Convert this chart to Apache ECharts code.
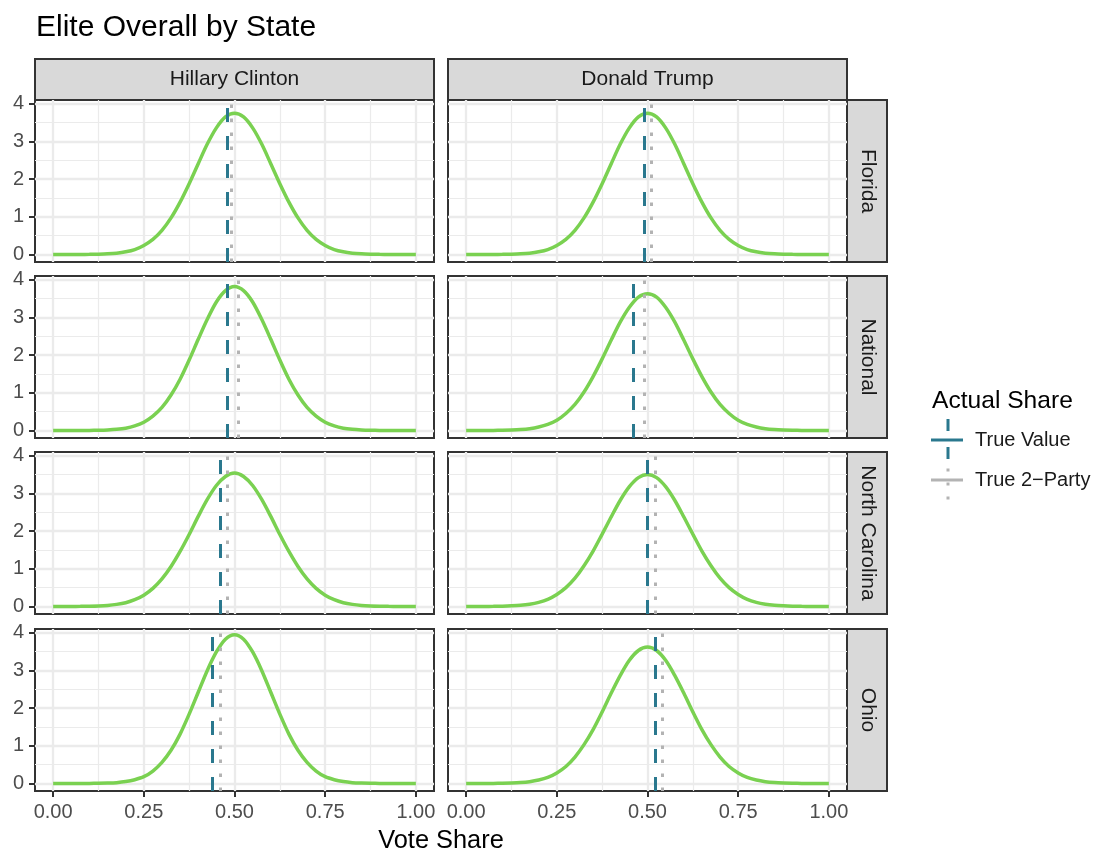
<!DOCTYPE html>
<html>
<head>
<meta charset="utf-8">
<title>Elite Overall by State</title>
<script src="https://cdn.jsdelivr.net/npm/echarts@6/dist/echarts.min.js"></script>
<style>
    html, body { margin: 0; padding: 0; background: #fff; }
    #main { width: 1095px; height: 852px; }
</style>
</head>
<body>
<div id="main"></div>
<script>
/* facets */
var candidates = ['Hillary Clinton', 'Donald Trump'];
var states = ['Florida', 'National', 'North Carolina', 'Ohio'];

/* x positions of the density curves */
var voteShare = [0, 0.025, 0.05, 0.075, 0.1, 0.125, 0.15, 0.175, 0.2, 0.225,
    0.25, 0.275, 0.3, 0.325, 0.35, 0.375, 0.4, 0.425, 0.45, 0.475,
    0.5, 0.525, 0.55, 0.575, 0.6, 0.625, 0.65, 0.675, 0.7, 0.725,
    0.75, 0.775, 0.8, 0.825, 0.85, 0.875, 0.9, 0.925, 0.95, 0.975, 1];

/* density */
var clintonFlorida = [0, 0, 0, 0.001, 0.003, 0.008, 0.017, 0.035, 0.07, 0.13, 0.24, 0.40, 0.64, 0.97, 1.39, 1.88, 2.41, 2.93, 3.36, 3.65,
    3.75, 3.65, 3.36, 2.93, 2.41, 1.88, 1.39, 0.97, 0.64, 0.40, 0.24, 0.13, 0.07, 0.035, 0.017, 0.008, 0.003, 0.001, 0, 0, 0];
var clintonNational = [0, 0, 0, 0.001, 0.002, 0.006, 0.014, 0.03, 0.06, 0.12, 0.22, 0.38, 0.61, 0.94, 1.36, 1.87, 2.42, 2.95, 3.41, 3.71,
    3.82, 3.71, 3.41, 2.95, 2.42, 1.87, 1.36, 0.94, 0.61, 0.38, 0.22, 0.12, 0.06, 0.03, 0.014, 0.006, 0.002, 0.001, 0, 0, 0];
var clintonNorthCarolina = [0, 0, 0.001, 0.003, 0.007, 0.014, 0.028, 0.055, 0.10, 0.18, 0.30, 0.48, 0.73, 1.06, 1.46, 1.91, 2.39, 2.84, 3.21, 3.45,
    3.54, 3.45, 3.21, 2.84, 2.39, 1.91, 1.46, 1.06, 0.73, 0.48, 0.30, 0.18, 0.10, 0.055, 0.028, 0.014, 0.007, 0.003, 0.001, 0, 0];
var clintonOhio = [0, 0, 0, 0.0006, 0.0015, 0.004, 0.01, 0.022, 0.05, 0.10, 0.18, 0.33, 0.56, 0.88, 1.31, 1.84, 2.42, 3.00, 3.49, 3.83,
    3.95, 3.83, 3.49, 3.00, 2.42, 1.84, 1.31, 0.88, 0.56, 0.33, 0.18, 0.10, 0.05, 0.022, 0.01, 0.004, 0.0015, 0.0006, 0, 0, 0];
var trumpFlorida = [0, 0, 0, 0.001, 0.003, 0.008, 0.017, 0.035, 0.07, 0.13, 0.24, 0.40, 0.64, 0.97, 1.39, 1.88, 2.41, 2.93, 3.36, 3.65,
    3.75, 3.65, 3.36, 2.93, 2.41, 1.88, 1.39, 0.97, 0.64, 0.40, 0.24, 0.13, 0.07, 0.035, 0.017, 0.008, 0.003, 0.001, 0, 0, 0];
var trumpNational = [0, 0, 0.001, 0.002, 0.005, 0.011, 0.023, 0.046, 0.09, 0.16, 0.27, 0.45, 0.69, 1.02, 1.43, 1.90, 2.40, 2.88, 3.27, 3.54,
    3.63, 3.54, 3.27, 2.88, 2.40, 1.90, 1.43, 1.02, 0.69, 0.45, 0.27, 0.16, 0.09, 0.046, 0.023, 0.011, 0.005, 0.002, 0.001, 0, 0];
var trumpNorthCarolina = [0, 0.001, 0.001, 0.003, 0.007, 0.016, 0.031, 0.06, 0.11, 0.19, 0.32, 0.50, 0.75, 1.08, 1.47, 1.92, 2.38, 2.82, 3.18, 3.42,
    3.50, 3.42, 3.18, 2.82, 2.38, 1.92, 1.47, 1.08, 0.75, 0.50, 0.32, 0.19, 0.11, 0.06, 0.031, 0.016, 0.007, 0.003, 0.001, 0.001, 0];
var trumpOhio = [0, 0, 0.001, 0.002, 0.005, 0.011, 0.023, 0.047, 0.09, 0.16, 0.28, 0.45, 0.70, 1.03, 1.43, 1.90, 2.40, 2.87, 3.27, 3.53,
    3.62, 3.53, 3.27, 2.87, 2.40, 1.90, 1.43, 1.03, 0.70, 0.45, 0.28, 0.16, 0.09, 0.047, 0.023, 0.011, 0.005, 0.002, 0.001, 0, 0];

/* actual shares, in the order of states */
var clintonTrueValue = [0.478, 0.482, 0.462, 0.436];
var clintonTwoParty = [0.494, 0.511, 0.481, 0.457];
var trumpTrueValue = [0.490, 0.461, 0.498, 0.517];
var trumpTwoParty = [0.506, 0.489, 0.519, 0.543];

/* axis ticks */
var xTicks = [0, 0.25, 0.5, 0.75, 1];
var xMinorTicks = [0.125, 0.375, 0.625, 0.875];
var yTicks = [0, 1, 2, 3, 4];
var yMinorTicks = [0.5, 1.5, 2.5, 3.5];

var legendTitle = 'Actual Share';
var legendNames = ['True Value', 'True 2\u2212Party'];

var initChart = function () {
    var densities = [
        [clintonFlorida, trumpFlorida],
        [clintonNational, trumpNational],
        [clintonNorthCarolina, trumpNorthCarolina],
        [clintonOhio, trumpOhio]
    ];
    var trueValues = [clintonTrueValue, trumpTrueValue];
    var twoParty = [clintonTwoParty, trumpTwoParty];

    var font = '"Liberation Sans", Arial, Helvetica, sans-serif';
    var lineColor = '#7AD151';
    var trueColor = '#2A788E';
    var partyColor = '#B3B3B3';
    var gridColor = '#EBEBEB';

    /* panel layout */
    var panelLeft = [35, 448];
    var panelTop = [100, 276, 452, 629];
    var panelW = 399;
    var panelH = 162;
    var stripSize = 41;

    var grids = [], xAxes = [], yAxes = [], series = [], graphics = [];

    states.forEach(function (state, r) {
        candidates.forEach(function (cand, c) {
            var i = r * 2 + c;
            var isBottom = r === states.length - 1;
            var isLeft = c === 0;
            grids.push({
                left: panelLeft[c], top: panelTop[r], width: panelW, height: panelH,
                show: true, backgroundColor: '#fff', borderColor: '#333333', borderWidth: 2
            });
            /* major and minor x axes */
            xAxes.push({
                type: 'value', gridIndex: i, min: -0.05, max: 1.05,
                axisLine: { show: false, onZero: false },
                axisTick: { show: isBottom, customValues: xTicks, length: 6, lineStyle: { color: '#333333', width: 2 } },
                axisLabel: {
                    show: isBottom, customValues: xTicks, margin: 11,
                    fontSize: 20, color: '#4D4D4D', fontFamily: font,
                    formatter: function (v) { return v.toFixed(2); }
                },
                splitLine: { show: true, lineStyle: { color: gridColor, width: 2.3 } }
            });
            xAxes.push({
                type: 'value', gridIndex: i, min: -0.05, max: 1.05,
                axisLine: { show: false, onZero: false },
                axisTick: { show: false, customValues: xMinorTicks },
                axisLabel: { show: false, customValues: xMinorTicks },
                splitLine: { show: true, lineStyle: { color: gridColor, width: 1.2 } }
            });
            /* major and minor y axes */
            yAxes.push({
                type: 'value', gridIndex: i, min: -0.2, max: 4.1,
                axisLine: { show: false, onZero: false },
                axisTick: { show: isLeft, customValues: yTicks, length: 6, lineStyle: { color: '#333333', width: 2 } },
                axisLabel: {
                    show: isLeft, customValues: yTicks, margin: 11,
                    fontSize: 20, color: '#4D4D4D', fontFamily: font
                },
                splitLine: { show: true, lineStyle: { color: gridColor, width: 2.3 } }
            });
            yAxes.push({
                type: 'value', gridIndex: i, min: -0.2, max: 4.1,
                axisLine: { show: false, onZero: false },
                axisTick: { show: false, customValues: yMinorTicks },
                axisLabel: { show: false, customValues: yMinorTicks },
                splitLine: { show: true, lineStyle: { color: gridColor, width: 1.2 } }
            });

            var curve = voteShare.map(function (x, k) {
                return [x, densities[r][c][k]];
            });
            series.push({
                type: 'line',
                xAxisIndex: i * 2,
                yAxisIndex: i * 2,
                data: curve,
                smooth: 0.3,
                showSymbol: false,
                silent: true,
                animation: false,
                lineStyle: { color: lineColor, width: 3.5 },
                markLine: {
                    silent: true,
                    animation: false,
                    symbol: ['none', 'none'],
                    label: { show: false },
                    z: 5,
                    data: [
                        { xAxis: trueValues[c][r], lineStyle: { color: trueColor, type: [14, 14], width: 3 } },
                        { xAxis: twoParty[c][r], lineStyle: { color: partyColor, type: [3.5, 10.5], width: 3 } }
                    ]
                }
            });
        });

        /* row strip on the right */
        graphics.push({
            type: 'rect',
            shape: { x: panelLeft[1] + panelW, y: panelTop[r], width: stripSize - 1, height: panelH },
            style: { fill: '#D9D9D9', stroke: '#333333', lineWidth: 2 }
        });
        graphics.push({
            type: 'text',
            x: panelLeft[1] + panelW + stripSize / 2,
            y: panelTop[r] + panelH / 2,
            rotation: -Math.PI / 2,
            style: {
                text: state, fill: '#1A1A1A', fontSize: 21, fontFamily: font,
                align: 'center', verticalAlign: 'middle'
            }
        });
    });

    /* column strips on top */
    candidates.forEach(function (cand, c) {
        graphics.push({
            type: 'rect',
            shape: { x: panelLeft[c], y: panelTop[0] - stripSize, width: panelW, height: stripSize },
            style: { fill: '#D9D9D9', stroke: '#333333', lineWidth: 2 }
        });
        graphics.push({
            type: 'text',
            x: panelLeft[c] + panelW / 2,
            y: panelTop[0] - stripSize / 2,
            style: {
                text: cand, fill: '#1A1A1A', fontSize: 21, fontFamily: font,
                align: 'center', verticalAlign: 'middle'
            }
        });
    });

    /* x axis title */
    graphics.push({
        type: 'text',
        x: (panelLeft[0] + panelLeft[1] + panelW) / 2,
        y: 841,
        style: {
            text: 'Vote Share', fill: '#000', fontSize: 25.4, fontFamily: font,
            align: 'center', verticalAlign: 'middle'
        }
    });

    /* legend, drawn by hand so the keys can show both lines */
    graphics.push({
        type: 'text', x: 932, y: 401,
        style: { text: legendTitle, fill: '#000', fontSize: 24.6, fontFamily: font, align: 'left', verticalAlign: 'middle' }
    });
    graphics.push({
        type: 'line', shape: { x1: 931, y1: 440, x2: 963, y2: 440 },
        style: { stroke: trueColor, lineWidth: 3 }
    });
    graphics.push({
        type: 'line', shape: { x1: 948, y1: 419, x2: 948, y2: 460 },
        style: { stroke: trueColor, lineWidth: 3, lineDash: [12, 16] }
    });
    graphics.push({
        type: 'line', shape: { x1: 931, y1: 480, x2: 963, y2: 480 },
        style: { stroke: partyColor, lineWidth: 3 }
    });
    graphics.push({
        type: 'line', shape: { x1: 948, y1: 468.5, x2: 948, y2: 500 },
        style: { stroke: partyColor, lineWidth: 3, lineDash: [3, 11] }
    });
    legendNames.forEach(function (name, k) {
        graphics.push({
            type: 'text', x: 975, y: 440 + k * 40,
            style: { text: name, fill: '#1A1A1A', fontSize: 20, fontFamily: font, align: 'left', verticalAlign: 'middle' }
        });
    });

    var myChart = echarts.init(document.getElementById('main'));
    var option = {
        backgroundColor: '#fff',
        animation: false,
        title: {
            text: 'Elite Overall by State',
            left: 36,
            top: 13,
            padding: 0,
            textStyle: { fontSize: 30, fontWeight: 'normal', color: '#000', fontFamily: font }
        },
        grid: grids,
        xAxis: xAxes,
        yAxis: yAxes,
        series: series,
        graphic: graphics
    };
    myChart.setOption(option);
};

initChart();
</script>
</body>
</html>
